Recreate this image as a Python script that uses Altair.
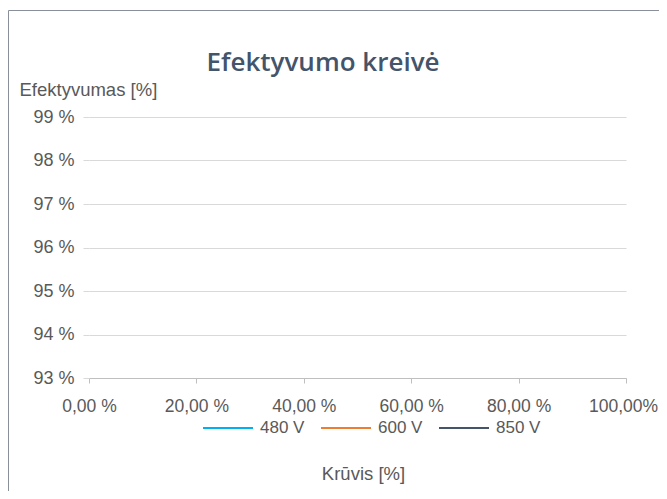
import altair as alt
import pandas as pd

# ---- data (no curve points are visible in the reference) ----
series_names = ["480 V", "600 V", "850 V"]
series_colors = ["#00B0F0", "#ED7D31", "#44546A"]
load_480 = []
eff_480 = []
load_600 = []
eff_600 = []
load_850 = []
eff_850 = []
x_ticks = [0, 20, 40, 60, 80, 100]
y_ticks = [93, 94, 95, 96, 97, 98, 99]
chart_title = "Efektyvumo kreivė"

rows = []
for name, xs, ys in [("480 V", load_480, eff_480), ("600 V", load_600, eff_600), ("850 V", load_850, eff_850)]:
    for a, b in zip(xs, ys):
        rows.append({"load": a, "eff": b, "series": name})
df = pd.DataFrame(rows, columns=["load", "eff", "series"])

CW, CH = 651, 483          # whole canvas (page minus 8px margins)
W, H = 537, 261            # plot area
PL, PT = 81, 109
PR = CW - PL - W
PB = CH - PT - H

FONT = "Liberation Sans"
LBL = "#595959"

x_label_expr = ("datum.value == 100 ? '100,00%' : "
                "replace(format(datum.value, '.2f'), '.', ',') + ' %'")

lines = alt.Chart(df).mark_line(strokeWidth=2).encode(
    x=alt.X("load:Q",
            scale=alt.Scale(domain=[0, 100], nice=False),
            axis=alt.Axis(values=x_ticks, labelExpr=x_label_expr, grid=False,
                          labelFlush=False, labelOverlap=False,
                          labelOffset={"condition": {"test": "datum.value == 100", "value": -3}, "value": 0},
                          domainColor="#BFBFBF", tickColor="#BFBFBF", tickSize=5,
                          labelPadding=14, labelFontSize=17.5, labelColor=LBL, labelFont=FONT,
                          title="Krūvis [%]", titleFont=FONT, titleFontSize=18.5,
                          titleFontWeight="normal", titleColor=LBL,
                          titleX=274, titleY=95, titleBaseline="middle",
                          titleAlign="center")),
    y=alt.Y("eff:Q",
            scale=alt.Scale(domain=[93, 99], nice=False, zero=False),
            axis=alt.Axis(values=y_ticks, labelExpr="format(datum.value, 'd') + ' %'",
                          grid=True, gridColor="#D9D9D9", domain=False,
                          tickColor="#D9D9D9", tickSize=6, labelPadding=9,
                          labelFontSize=18, labelColor=LBL, labelFont=FONT,
                          title="Efektyvumas [%]", titleAngle=0, titleAlign="left",
                          titleBaseline="middle", titleX=-70, titleY=-28,
                          titleFont=FONT, titleFontSize=18.5, titleFontWeight="normal",
                          titleColor=LBL)),
    color=alt.Color("series:N",
                    scale=alt.Scale(domain=series_names, range=series_colors),
                    legend=alt.Legend(orient="none", legendX=113, legendY=285,
                                      direction="horizontal", title=None,
                                      symbolType="stroke", symbolSize=2500,
                                      symbolStrokeWidth=2, labelOffset=6,
                                      columnPadding=12, labelFontSize=17,
                                      labelFont=FONT, labelColor=LBL)),
)

frame = alt.Chart(pd.DataFrame({"k": [0]})).mark_rect(
    fill=None, stroke="#8A9099", strokeWidth=1
).encode(
    x=alt.value(-80.5), x2=alt.value(W + 200),
    y=alt.value(-106.5), y2=alt.value(H + 300),
)

title = alt.Chart(pd.DataFrame({"t": [chart_title]})).mark_text(
    font="Open Sans", fontSize=26, fontWeight=600, color="#44546A",
    align="center", baseline="middle"
).encode(
    x=alt.value(234), y=alt.value(-54), text="t:N"
)

chart = alt.layer(frame, lines, title).properties(
    width=W, height=H,
    autosize=alt.AutoSizeParams(type="none"),
    padding={"left": PL, "top": PT, "right": PR, "bottom": PB},
).configure(background="white").configure_view(stroke=None)

chart.save("out.html", embed_options={"renderer": "svg", "actions": False})
